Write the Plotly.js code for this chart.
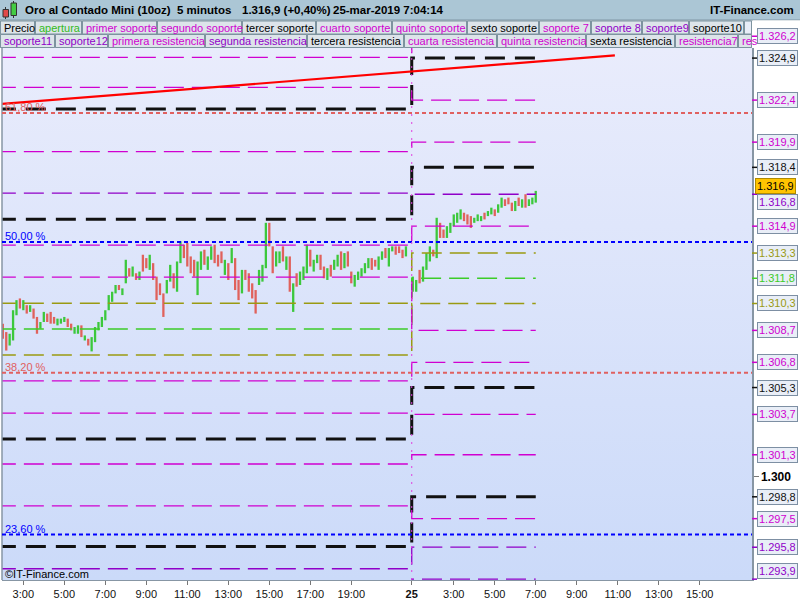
<!DOCTYPE html>
<html><head><meta charset="utf-8">
<script src="https://cdn.plot.ly/plotly-3.0.1.min.js"></script>
<style>
html,body{margin:0;padding:0;background:#fff;}
#wrap{position:relative;width:800px;height:600px;overflow:hidden;}
#bg{position:absolute;left:2px;top:48px;width:750px;height:532px;background:linear-gradient(#e9ecfc,#cbdaf9);}
#chart{position:absolute;left:0;top:0;width:800px;height:600px;}
</style></head><body>
<div id="wrap"><div id="bg"></div><div id="chart"></div></div>
<script>
// ---------------- DATA ----------------
const titleParts = ['Oro al Contado Mini (10oz)', '5 minutos', '1.316,9 (+0,40%)', '25-mar-2019 7:04:14'];
const siteName = 'IT-Finance.com';
const copyrightText = '©IT-Finance.com';
const legendRow1 = ['Precio','apertura','primer soporte','segundo soporte','tercer soporte','cuarto soporte','quinto soporte','sexto soporte','soporte 7','soporte 8','soporte9','soporte10',''];
const legendRow2 = ['soporte11','soporte12','primera resistencia','segunda resistencia','tercera resistencia','cuarta resistencia','quinta resistencia','sexta resistencia','resistencia7','res'];

// Day 1 (24th) 10-minute bars from 2:00
const d1Open  = [1308.9,1308.4,1307.9,1308.2,1309.7,1310.5,1310.0,1310.2,1309.8,1310.0,1309.5,1308.9,1309.2,1309.7,1309.6,1309.4,1309.1,1309.2,1309.3,1309.4,1309.1,1308.6,1308.6,1308.9,1308.2,1308.2,1307.6,1308.1,1308.8,1309.0,1309.3,1309.9,1310.5,1310.9,1311.4,1310.9,1311.6,1312.3,1311.9,1312.1,1311.8,1313.1,1312.9,1312.4,1312.7,1311.9,1311.4,1310.9,1310.9,1311.6,1312.1,1311.1,1312.7,1313.7,1313.8,1313.0,1312.8,1310.9,1312.3,1313.3,1312.4,1312.9,1313.6,1313.1,1313.2,1312.1,1312.6,1312.7,1313.0,1311.6,1310.9,1312.3,1312.0,1311.4,1311.0,1311.4,1311.6,1312.4,1315.0,1313.7,1312.5,1312.8,1313.6,1312.4,1313.0,1310.0,1312.0,1311.4,1311.8,1312.2,1313.4,1312.3,1312.8,1313.1,1312.4,1311.8,1312.4,1312.3,1312.6,1313.3,1312.5,1313.3,1312.1,1311.4,1311.8,1312.0,1312.2,1312.5,1312.9,1312.8,1312.4,1313.0,1313.5,1312.6,1313.4,1313.6,1313.6,1313.4,1313.1];
const d1High  = [1309.1,1308.6,1308.5,1309.9,1310.5,1310.6,1310.5,1310.2,1310.2,1310.0,1309.5,1309.2,1309.8,1309.7,1309.8,1309.5,1309.4,1309.4,1309.5,1309.4,1309.1,1308.9,1309.0,1309.0,1308.4,1308.2,1308.3,1308.9,1309.2,1309.5,1309.9,1310.8,1311.0,1311.4,1311.4,1311.2,1312.9,1312.4,1312.5,1312.1,1312.2,1313.2,1313.0,1313.2,1312.7,1311.9,1311.5,1310.9,1311.7,1312.6,1312.1,1312.8,1314.0,1313.8,1313.9,1313.1,1312.9,1312.8,1313.4,1313.5,1313.1,1313.7,1313.8,1313.2,1313.4,1312.9,1312.7,1313.6,1313.0,1311.7,1312.3,1312.3,1312.1,1311.5,1311.1,1312.3,1312.6,1315.1,1315.1,1313.7,1313.4,1313.4,1313.7,1313.1,1313.1,1311.5,1312.1,1312.2,1312.5,1313.8,1313.5,1312.9,1313.2,1313.2,1312.5,1312.4,1312.6,1312.9,1313.2,1313.4,1313.3,1313.4,1312.2,1312.0,1312.2,1312.4,1312.7,1313.0,1313.0,1312.9,1313.1,1313.4,1313.6,1313.6,1313.7,1313.7,1313.7,1313.5,1313.7];
const d1Low   = [1308.2,1307.5,1307.8,1308.1,1309.6,1310.0,1309.9,1309.7,1309.8,1309.4,1308.5,1308.8,1309.2,1309.2,1309.1,1309.1,1309.0,1309.1,1309.2,1308.9,1308.7,1308.5,1308.5,1308.3,1308.1,1307.8,1307.45,1308.0,1308.7,1308.9,1309.3,1309.9,1310.4,1310.9,1311.1,1310.8,1311.5,1311.9,1311.9,1311.7,1311.7,1312.2,1312.4,1312.3,1311.7,1310.5,1310.8,1309.5,1310.9,1311.6,1311.2,1311.0,1312.7,1313.0,1312.5,1312.1,1311.9,1310.8,1312.3,1312.6,1312.3,1312.9,1312.7,1312.5,1312.7,1312.0,1311.7,1312.7,1311.1,1310.5,1310.9,1311.7,1311.0,1310.6,1309.7,1311.4,1311.6,1312.4,1313.7,1312.1,1312.5,1312.7,1312.8,1312.3,1311.0,1309.8,1311.3,1311.4,1311.7,1312.1,1312.5,1312.2,1312.7,1312.3,1311.8,1311.7,1311.9,1312.3,1312.5,1312.3,1312.4,1312.5,1311.5,1311.3,1311.7,1311.9,1312.1,1312.4,1312.3,1312.5,1312.3,1312.9,1313.0,1312.5,1313.4,1313.2,1313.3,1313.0,1313.1];
const d1Close = [1308.3,1307.8,1308.4,1309.7,1310.3,1310.1,1310.4,1309.8,1310.1,1309.5,1308.8,1309.1,1309.7,1309.3,1309.2,1309.2,1309.4,1309.3,1309.5,1309.0,1308.8,1308.8,1308.9,1308.4,1308.3,1307.9,1308.2,1308.8,1309.1,1309.4,1309.8,1310.7,1310.9,1311.3,1311.2,1311.1,1312.7,1312.0,1312.4,1311.8,1312.1,1312.4,1312.5,1313.1,1311.8,1310.7,1310.9,1309.9,1311.6,1312.5,1311.3,1312.7,1313.9,1313.1,1312.7,1312.2,1312.0,1312.6,1313.2,1312.7,1313.0,1313.6,1312.8,1312.6,1312.8,1312.8,1311.8,1313.5,1311.3,1310.6,1312.2,1311.8,1311.1,1310.8,1310.0,1312.2,1312.5,1314.9,1313.8,1312.3,1313.2,1313.3,1312.9,1313.0,1311.2,1311.4,1311.4,1312.1,1312.4,1313.6,1312.6,1312.8,1313.1,1312.4,1311.9,1312.3,1312.0,1312.8,1313.1,1312.4,1313.2,1312.6,1311.6,1311.9,1312.1,1312.3,1312.6,1312.9,1312.4,1312.6,1313.0,1313.3,1313.1,1313.5,1313.6,1313.3,1313.4,1313.1,1313.6];

// Day 2 (25th) 10-minute bars from 1:00
const d2Open  = [1311.1,1311.0,1312.2,1311.7,1312.4,1312.9,1313.5,1313.1,1315.0,1314.6,1314.2,1314.5,1314.9,1315.2,1315.4,1315.7,1315.5,1315.3,1315.1,1315.3,1315.3,1315.6,1315.5,1315.7,1315.9,1315.7,1316.0,1316.4,1316.5,1316.2,1315.9,1316.5,1316.1,1316.7,1316.1,1316.3,1316.4];
const d2High  = [1311.9,1311.7,1312.3,1312.5,1313.3,1313.7,1313.5,1315.4,1315.1,1314.7,1314.9,1315.1,1315.6,1315.7,1315.9,1315.7,1315.6,1315.5,1315.4,1315.6,1315.5,1315.7,1315.8,1316.0,1315.9,1316.2,1316.6,1316.5,1316.6,1316.3,1316.4,1316.6,1316.5,1316.8,1316.5,1316.6,1317.0];
const d2Low   = [1311.0,1311.0,1311.5,1311.6,1312.3,1312.8,1313.1,1313.0,1314.2,1314.2,1314.2,1314.5,1314.9,1315.1,1315.3,1315.2,1315.0,1314.8,1315.1,1315.2,1315.2,1315.3,1315.5,1315.6,1315.5,1315.7,1316.0,1316.1,1316.2,1315.8,1315.8,1316.1,1316.0,1316.0,1316.1,1316.2,1316.3];
const d2Close = [1311.8,1311.6,1311.6,1312.4,1313.2,1313.6,1313.2,1315.0,1314.3,1314.3,1314.8,1315.0,1315.5,1315.6,1315.8,1315.3,1315.1,1314.9,1315.3,1315.5,1315.4,1315.4,1315.7,1315.9,1315.6,1316.1,1316.5,1316.2,1316.3,1315.9,1316.3,1316.2,1316.4,1316.1,1316.4,1316.5,1316.9];

// Support / resistance levels: value on day 1 and on day 2
const lvDay1 = [1321.87,1315.31,1302.24,1295.84,1310.32,1308.78,1307.23,1324.94,1323.16,1319.33,1316.87,1313.77,1311.87,1305.70,1303.78,1300.75,1298.26,1294.52,1292.60];
const lvDay2 = [1324.9,1318.4,1305.3,1298.8,1313.3,1311.8,1310.3,1326.2,1322.4,1319.9,1316.8,1314.9,1308.7,1306.8,1303.7,1301.3,1297.5,1295.8,1293.9];

// Fibonacci retracements
const fibLevels = [1321.63, 1313.96, 1306.18, 1296.55];
const fibLabels = ['61,80 %', '50,00 %', '38,20 %', '23,60 %'];

// Trend line (time position, price)
const trendX = [1.86, 31.86];
const trendY = [1322.16, 1325.06];

// X axis ticks (hours)
const day1TickHours = [3,5,7,9,11,13,15,17,19];
const day1TickText = ['3:00','5:00','7:00','9:00','11:00','13:00','15:00','17:00','19:00'];
const dayLabel = '25';
const day2TickHours = [3,5,7,9,11,13,15];
const day2TickText = ['3:00','5:00','7:00','9:00','11:00','13:00','15:00'];
const yTickVals = [1300];
const yTickText = ['1.300'];

// ---------------- STYLE / SCALE ----------------
const FONT = 'Liberation Sans, Arial, sans-serif';
const d1StartHour = 2, d2StartHour = 1, barMinutes = 10;
const sessionShift = 21;      // day-2 hour h is drawn at position h + sessionShift
const dayBoundary = 21.95;
const xRange = [1.96, 38.55];
const yRange = [1293.85, 1325.5];
const ML = 2, MT = 48, PW = 750, PH = 532;
const px2x = p => (p - ML) / PW;
const py2y = p => (MT + PH - p) / PH;
const v2y = v => (v - yRange[0]) / (yRange[1] - yRange[0]);

const C = {k:'#111111', o:'#9a9a12', g:'#3ccc28', m:'#d000d0', p:'#9000c8'};
const lvKind = ['k','k','k','k','o','g','o','m','m','m','p','m','m','m','m','m','m','p','p'];
const lvLabelKind = ['k','k','k','k','o','g','o','m','m','m','p','m','m','m','m','m','m','p','p'];
const lvLabelShift = {10:-8, 18:8};
const styleOf = k => k==='k' ? {w:3, dash:'20px,10px'} : (k==='o'||k==='g') ? {w:1.5, dash:'20px,8px'} : {w:1.3, dash:'20px,8px'};
const fibColors = ['#e06060','#0000ff','#e06060','#0000ff'];

// ---------------- BUILD ----------------
const d1x = d1Open.map((_, k) => d1StartHour + k * barMinutes / 60);
const d2x = d2Open.map((_, k) => sessionShift + d2StartHour + k * barMinutes / 60);
const d2End = d2x[d2x.length - 1];

const traces = [];
lvDay1.forEach((v1, i) => {
  const st = styleOf(lvKind[i]);
  traces.push({type:'scatter', mode:'lines', x:[xRange[0]-0.3, dayBoundary, d2End], y:[v1, lvDay2[i], lvDay2[i]],
    line:{shape:'hv', color:C[lvKind[i]], width:st.w, dash:st.dash}, hoverinfo:'skip', showlegend:false});
});
traces.push({type:'ohlc', x:d1x.concat(d2x), open:d1Open.concat(d2Open), high:d1High.concat(d2High),
  low:d1Low.concat(d2Low), close:d1Close.concat(d2Close), tickwidth:0,
  increasing:{line:{color:'#3cc83c', width:2.3}}, decreasing:{line:{color:'#e0625c', width:2.3}},
  hoverinfo:'skip', showlegend:false});
traces.push({type:'scatter', mode:'lines', x:trendX, y:trendY, line:{color:'#ff0000', width:2.2}, hoverinfo:'skip', showlegend:false});

const fmt = v => { const s = v.toFixed(1).split('.'); return s[0].slice(0,1) + '.' + s[0].slice(1) + ',' + s[1]; };

const shapes = [];
const annotations = [];
const rectPx = (x0,y0,x1,y1,fill,line,lw) => shapes.push({type:'rect', xref:'paper', yref:'paper', x0:px2x(x0), x1:px2x(x1), y0:py2y(y1), y1:py2y(y0), fillcolor:fill, line:{color:line||fill, width:lw===undefined?0:lw}, layer:'below'});
const linePx = (x0,y0,x1,y1,color,w) => shapes.push({type:'line', xref:'paper', yref:'paper', x0:px2x(x0), x1:px2x(x1), y0:py2y(y0), y1:py2y(y1), line:{color, width:w}, layer:'below'});

// title bar
rectPx(0,0,800,20,'#abc6d5');
linePx(0,20,800,20,'#7f97a4',1);
// candle icon
linePx(5.5,7,5.5,19,'#333',1);
rectPx(3,9.5,8.5,17,'#e04848','#333',1);
linePx(13.5,1,13.5,18,'#333',1);
rectPx(11,3,16.5,15.5,'#44cc44','#333',1);
const titleX = [23,175,240,331];
titleParts.forEach((t,i) => annotations.push({xref:'paper', yref:'paper', x:px2x(titleX[i]), y:py2y(10.5), xanchor:'left', yanchor:'middle', text:'<b>'+t+'</b>', showarrow:false, font:{family:FONT, size:11.5, color:'#000'}}));
annotations.push({xref:'paper', yref:'paper', x:px2x(796), y:py2y(10.5), xanchor:'right', yanchor:'middle', text:'<b>'+siteName+'</b>', showarrow:false, font:{family:FONT, size:11.5, color:'#000'}});

// legend rows
rectPx(0,20.5,752,48,'#8ea6b2');
const row1Left = [0,35,82,157,242,316,392,467,539,591,642,689,744,752];
const row2Left = [0,55,108,205,307,404,497,586,675,738,752];
const row1Col = ['#000','#33bb22',C.m,C.m,'#000',C.m,C.m,'#000',C.m,C.p,C.p,'#000','#000'];
const row2Col = [C.p,C.p,C.m,C.p,'#000',C.m,C.m,'#000',C.m,C.m];
function legendRow(names, lefts, cols, yTop, yBot, fillLast) {
  names.forEach((n,i) => {
    const fill = (i === names.length-1 && fillLast) ? '#e8edf8' : '#dde4ea';
    rectPx(lefts[i]+0.5, yTop, lefts[i+1]-0.5, yBot, fill, '#7d939f', 1);
    if (n) annotations.push({xref:'paper', yref:'paper', x:px2x(lefts[i]+2), y:py2y((yTop+yBot)/2), xanchor:'left', yanchor:'middle', text:n, showarrow:false, font:{family:FONT, size:11, color:cols[i]}});
  });
}
legendRow(legendRow1, row1Left, row1Col, 21, 34, true);
legendRow(legendRow2, row2Left, row2Col, 34.5, 47.5, false);
// white area right of legend
rectPx(753,20.5,800,48,'#ffffff');

// left border
shapes.push({type:'line', xref:'paper', yref:'paper', x0:0, x1:0, y0:0, y1:1, line:{color:'#8796a4', width:1.5}});

// Fibonacci lines and labels
fibLevels.forEach((v,i) => {
  shapes.push({type:'line', xref:'paper', yref:'y', x0:0, x1:1, y0:v, y1:v, line:{color:fibColors[i], width:2, dash:'4px,3px'}});
  annotations.push({xref:'paper', yref:'y', x:0, y:v, xanchor:'left', yanchor:'bottom', xshift:1, yshift:-2, text:fibLabels[i], showarrow:false, font:{family:FONT, size:11, color:fibColors[i]}});
});
// day separator
shapes.push({type:'line', xref:'x', yref:'paper', x0:dayBoundary, x1:dayBoundary, y0:0, y1:1, line:{color:'#e040e0', width:1, dash:'2px,6px'}});

// right-side level labels
lvDay2.forEach((v,i) => {
  const col = C[lvLabelKind[i]];
  shapes.push({type:'line', xref:'paper', yref:'paper', x0:1, x1:1+5/PW, y0:v2y(v), y1:v2y(v), line:{color:col, width:1.5}});
  annotations.push({xref:'paper', yref:'paper', x:1, y:v2y(v), xanchor:'left', yanchor:'middle', xshift:5, yshift:lvLabelShift[i]||0,
    text:fmt(v), showarrow:false, font:{family:FONT, size:11, color:col}, bgcolor:'#e9eef7', bordercolor:'#7d8fa3', borderwidth:1, borderpad:1, height:12});
});
// current price label
const lastClose = d2Close[d2Close.length-1];
annotations.push({xref:'paper', yref:'paper', x:1, y:v2y(lastClose), xanchor:'left', yanchor:'middle', xshift:3, yshift:7,
  text:fmt(lastClose), showarrow:false, font:{family:FONT, size:11, color:'#000'}, bgcolor:'#ffc400', bordercolor:'#b08a00', borderwidth:1, borderpad:1, height:12});

// copyright
annotations.push({xref:'paper', yref:'paper', x:px2x(3), y:py2y(574), xanchor:'left', yanchor:'middle', text:copyrightText, showarrow:false, font:{family:FONT, size:11, color:'#000'}});

const tickvals = day1TickHours.concat([dayBoundary], day2TickHours.map(h => h + sessionShift));
const ticktext = day1TickText.concat(['<b>'+dayLabel+'</b>'], day2TickText);

const layout = {
  width:800, height:600,
  margin:{l:ML, r:800-ML-PW, t:MT, b:600-MT-PH, pad:0},
  paper_bgcolor:'rgba(0,0,0,0)', plot_bgcolor:'rgba(0,0,0,0)',
  showlegend:false, hovermode:false,
  xaxis:{range:xRange, showgrid:false, zeroline:false, tickmode:'array', tickvals, ticktext, ticks:'outside', ticklen:4, tickcolor:'#777',
    showline:true, linecolor:'#8796a4', linewidth:1, tickfont:{family:FONT, size:11, color:'#111'}, rangeslider:{visible:false}, fixedrange:true},
  yaxis:{range:yRange, side:'right', showgrid:false, zeroline:false, tickmode:'array', tickvals:yTickVals, ticktext:yTickText.map(t=>'<b>'+t+'</b>'),
    ticks:'outside', ticklen:5, tickcolor:'#777', showline:true, linecolor:'#8796a4', linewidth:1.5, tickfont:{family:FONT, size:12, color:'#000'}, fixedrange:true},
  shapes, annotations
};
Plotly.newPlot('chart', traces, layout, {displayModeBar:false, staticPlot:true});
</script>
</body></html>
